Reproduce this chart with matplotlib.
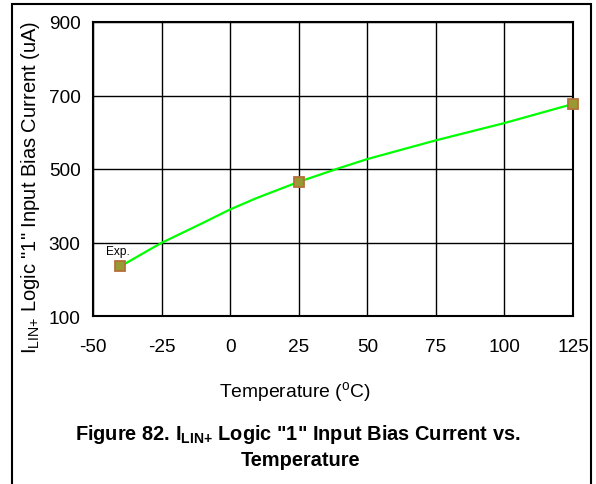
import matplotlib
matplotlib.use('Agg')
import matplotlib.pyplot as plt
from matplotlib.patches import Rectangle

plt.rcParams['font.family'] = ['Liberation Sans', 'DejaVu Sans']
plt.rcParams['mathtext.fontset'] = 'custom'
plt.rcParams['mathtext.rm'] = 'Liberation Sans'
plt.rcParams['mathtext.bf'] = 'Liberation Sans:bold'
plt.rcParams['axes.unicode_minus'] = False

# Datos
temp_curva = [-40, -30, -25, -10, 0, 10, 25, 40, 50, 75, 100, 125]
corriente_curva = [235, 278, 299, 353, 390, 422, 465, 503, 527, 578, 625, 677]
temp_medida = [-40, 25, 125]
corriente_medida = [235, 465, 677]
x_ticks = [-50, -25, 0, 25, 50, 75, 100, 125]
y_ticks = [100, 300, 500, 700, 900]

fig = plt.figure(figsize=(5.96, 4.85), dpi=100)
ax = fig.add_axes([93 / 596, 1 - 317 / 485, 480 / 596, 294 / 485])

# Marco exterior (el borde inferior queda fuera de la imagen)
fig.patches.append(Rectangle((12 / 596, -0.02), 579 / 596, 1.02 - 5 / 485,
                             transform=fig.transFigure, fill=False,
                             edgecolor='black', linewidth=1.5))

ax.plot(temp_curva, corriente_curva, color='#00ff00', linewidth=1.6, zorder=3)
ax.plot(temp_medida, corriente_medida, linestyle='none', marker='s', markersize=7,
        markerfacecolor='#999933', markeredgecolor='#b5703a', markeredgewidth=1.3,
        zorder=4, clip_on=False)
ax.text(-45.3, 269, 'Exp.', fontsize=8.6, va='baseline', ha='left')

ax.set_xlim(-50, 125)
ax.set_ylim(100, 900)
ax.set_xticks(x_ticks)
ax.set_yticks(y_ticks)
ax.tick_params(length=0, labelsize=13.7)
ax.tick_params(axis='x', pad=16)
ax.tick_params(axis='y', pad=9)
ax.grid(True, color='black', linewidth=1.0)
for s in ax.spines.values():
    s.set_linewidth(1.5)

ax.set_ylabel(r'I$_{\mathregular{LIN{+}}}$ Logic "1" Input Bias Current (uA)', fontsize=14.5)
ax.yaxis.set_label_coords(-0.106, 0.44)
ax.set_xlabel(r'Temperature ($^{\mathregular{o}}$C)', fontsize=13.9)
ax.xaxis.set_label_coords(0.42, -0.214)

fig.text(298 / 596, 1 - 434 / 485,
         r'Figure 82. I$_{\mathbf{LIN{+}}}$ Logic "1" Input Bias Current vs.',
         fontsize=14.4, fontweight='bold', ha='center', va='center')
fig.text(300 / 596, 1 - 461 / 485, 'Temperature',
         fontsize=14.4, fontweight='bold', ha='center', va='center')

fig.savefig('out.png', dpi=100)
